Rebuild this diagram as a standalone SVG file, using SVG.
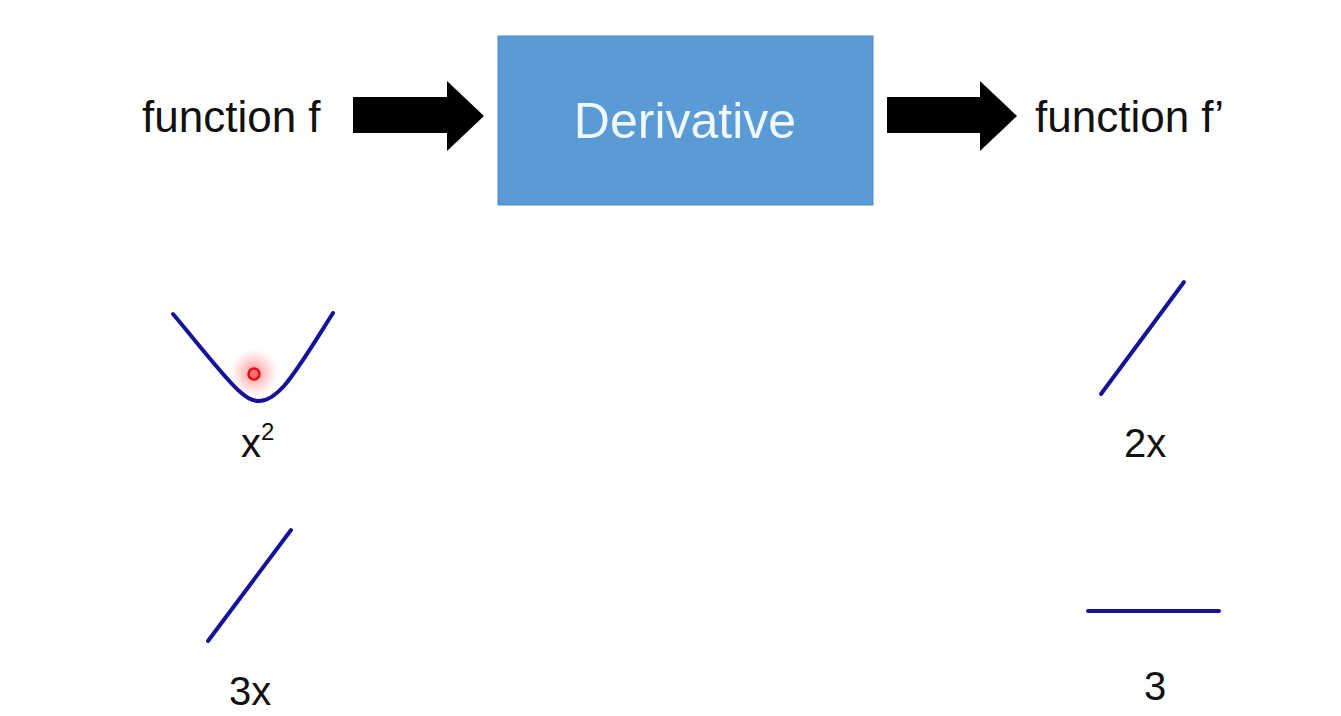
<svg xmlns="http://www.w3.org/2000/svg" width="1341" height="716" viewBox="0 0 1341 716">
<style>
.lbl{font-family:"Liberation Sans",Arial,sans-serif;fill:#111;}
.curve{fill:none;stroke:#14149a;stroke-width:4;stroke-linecap:round;}
.arrow{fill:#000;}
</style>
<defs>
<radialGradient id="glow" cx="0.5" cy="0.5" r="0.5">
<stop offset="0" stop-color="#ff3030" stop-opacity="0.6"/>
<stop offset="0.5" stop-color="#ff6060" stop-opacity="0.3"/>
<stop offset="1" stop-color="#ff8080" stop-opacity="0"/>
</radialGradient>
</defs>
<rect width="1341" height="716" fill="#fff"/>
<g id="input">
<text class="lbl" x="142" y="132" font-size="44">function f</text>
</g>
<g id="derivative">
<rect x="498" y="36" width="375" height="169" fill="#5B9BD5" stroke="#4A8AC4" stroke-width="1"/>
<text x="685" y="138" font-family="Liberation Sans,Arial,sans-serif" font-size="50" fill="#F0F8FF" text-anchor="middle">Derivative</text>
</g>
<g id="output">
<text class="lbl" x="1035" y="132" font-size="44">function f’</text>
</g>
<g id="connectors">
<polygon class="arrow" points="353,97 447,97 447,81 484,116 447,151 447,133 353,133"/>
<polygon class="arrow" points="887,97 980,97 980,81 1017,116 980,151 980,133 887,133"/>
</g>
<g id="x2">
<path class="curve" d="M173,314 C200,346 222,375 238,390 C248,399 253,401 259,401 C266,401 273,398 284,386 C298,370 314,343 333,313"/>
<circle cx="254" cy="373" r="24" fill="url(#glow)"/>
<circle cx="254" cy="374" r="5.5" fill="#ff7070" stroke="#e01010" stroke-width="2.5"/>
<text class="lbl" x="241" y="457" font-size="40">x<tspan font-size="24" dy="-17">2</tspan></text>
</g>
<g id="x3">
<line class="curve" x1="208" y1="641" x2="291" y2="530"/>
<text class="lbl" x="229" y="705" font-size="40">3x</text>
</g>
<g id="d2x">
<line class="curve" x1="1101" y1="394" x2="1184" y2="282"/>
<text class="lbl" x="1124" y="457" font-size="40">2x</text>
</g>
<g id="d3">
<line class="curve" x1="1088" y1="611" x2="1219" y2="611"/>
<text class="lbl" x="1144" y="700" font-size="40">3</text>
</g>
</svg>
